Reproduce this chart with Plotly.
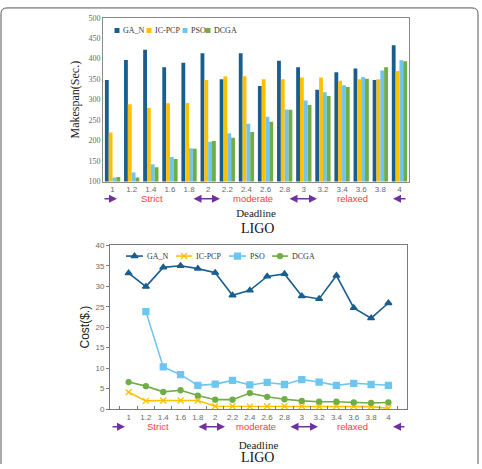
import plotly.graph_objects as go

deadlines = ["1", "1.2", "1.4", "1.6", "1.8", "2", "2.2", "2.4", "2.6", "2.8",
             "3", "3.2", "3.4", "3.6", "3.8", "4"]
series_names = ["GA_N", "IC-PCP", "PSO", "DCGA"]
series_colors = ["#1A5E8E", "#FFC000", "#6EC6F0", "#70AD47"]

makespan_ga_n = [348, 397, 422, 379, 390, 413, 350, 413, 333, 395, 379, 324, 367, 376, 348, 433]
makespan_ic_pcp = [220, 289, 280, 291, 292, 348, 357, 357, 350, 350, 354, 354, 346, 350, 350, 370]
makespan_pso = [110, 122, 142, 160, 181, 197, 218, 241, 258, 276, 298, 318, 335, 355, 371, 396]
makespan_dcga = [111, 110, 135, 155, 180, 199, 207, 221, 246, 275, 287, 309, 331, 351, 379, 394]

cost_ga_n = [33.2, 29.9, 34.6, 35.0, 34.3, 33.3, 27.8, 29.0, 32.4, 33.0, 27.6, 26.9, 32.6, 24.7, 22.2, 25.9]
cost_ic_pcp = [4.1, 2.0, 2.1, 2.1, 2.1, 0.7, 0.7, 0.6, 0.7, 0.7, 0.7, 0.6, 0.7, 0.7, 0.6, 0.2]
cost_pso = [None, 23.8, 10.3, 8.4, 5.8, 6.1, 7.0, 5.9, 6.5, 6.0, 7.2, 6.6, 5.8, 6.3, 6.0, 5.8]
cost_dcga = [6.6, 5.6, 4.2, 4.6, 3.3, 2.3, 2.3, 3.9, 3.0, 2.4, 2.0, 1.8, 1.8, 1.6, 1.5, 1.6]

zone_labels = ["Strict", "moderate", "relaxed"]

makespan = [makespan_ga_n, makespan_ic_pcp, makespan_pso, makespan_dcga]
cost = [cost_ga_n, cost_ic_pcp, cost_pso, cost_dcga]
line_symbols = ["triangle-up", "x-thin", "square", "circle"]
marker_sizes = [6, 6, 6, 5]

W, H = 482, 469
def px(x):
    return x / W
def py(y):
    return 1 - y / H

SERIF = "Liberation Serif"
SANS = "Liberation Sans"
GRAY = "#6b6b6b"

fig = go.Figure()
for name, col, vals in zip(series_names, series_colors, makespan):
    fig.add_trace(go.Bar(x=deadlines, y=vals, name=name, marker_color=col,
                         marker_line_width=0, xaxis="x", yaxis="y", showlegend=False))

for name, col, vals, sym, ms in zip(series_names, series_colors, cost, line_symbols, marker_sizes):
    fig.add_trace(go.Scatter(x=deadlines, y=vals, name=name, mode="lines+markers",
                             line=dict(color=col, width=1.6),
                             marker=dict(symbol=sym, size=ms, color=col,
                                         line=dict(color=col, width=1.3)),
                             xaxis="x2", yaxis="y2", showlegend=False))

# legend samples drawn on a hidden pixel-coordinate overlay axis
bar_legend_sym_x = [117, 149, 185, 208]
bar_legend_y = 27
line_legend_x = [(126, 143), (176, 192), (229, 246), (272, 288)]
line_legend_y = 257
for i, (name, col) in enumerate(zip(series_names, series_colors)):
    fig.add_trace(go.Scatter(x=[bar_legend_sym_x[i]], y=[bar_legend_y], mode="markers",
                             marker=dict(symbol="square", size=5, color=col),
                             xaxis="x3", yaxis="y3", showlegend=False, hoverinfo="skip"))
    x0, x1 = line_legend_x[i]
    fig.add_trace(go.Scatter(x=[x0, x1], y=[line_legend_y] * 2,
                             mode="lines", line=dict(color=col, width=1.6),
                             xaxis="x3", yaxis="y3", showlegend=False, hoverinfo="skip"))
    fig.add_trace(go.Scatter(x=[(x0 + x1) / 2], y=[line_legend_y], mode="markers",
                             marker=dict(symbol=line_symbols[i], size=marker_sizes[i], color=col,
                                         line=dict(color=col, width=1.3)),
                             xaxis="x3", yaxis="y3", showlegend=False, hoverinfo="skip"))

axis_common = dict(showline=True, mirror=True, showgrid=False, zeroline=False)

fig.update_layout(
    width=W, height=H, margin=dict(l=0, r=0, t=0, b=0),
    paper_bgcolor="white", plot_bgcolor="rgba(0,0,0,0)",
    barmode="group", bargap=0.2, bargroupgap=0,
    xaxis=dict(domain=[px(103), px(409)], anchor="y", type="category",
               linecolor="#8a8a8a", linewidth=1, ticks="", tickangle=0,
               tickfont=dict(family=SANS, size=8, color=GRAY),
               title=dict(text="Deadline", font=dict(family=SERIF, size=11, color="#222"),
                          standoff=16),
               **axis_common),
    yaxis=dict(domain=[py(181), py(14)], anchor="x", range=[100, 500], dtick=50,
               linecolor="#8a8a8a", linewidth=1, ticks="",
               tickfont=dict(family=SERIF, size=8, color=GRAY),
               title=dict(text="Makespan(Sec.)", font=dict(family=SERIF, size=12, color="#222"),
                          standoff=6),
               **axis_common),
    xaxis2=dict(domain=[px(110), px(407)], anchor="y2", type="category",
                linecolor="#7a7a7a", linewidth=1, ticks="inside", ticklen=3,
                tickson="boundaries", tickcolor="#7a7a7a", tickangle=0,
                tickfont=dict(family=SANS, size=8, color=GRAY),
                title=dict(text="Deadline", font=dict(family=SERIF, size=11, color="#222"),
                           standoff=20),
                **axis_common),
    yaxis2=dict(domain=[py(413), py(246)], anchor="x2", range=[0, 40], dtick=5,
                linecolor="#7a7a7a", linewidth=1, ticks="outside", ticklen=3,
                tickcolor="#7a7a7a",
                tickfont=dict(family=SANS, size=8, color=GRAY),
                title=dict(text="Cost($.)", font=dict(family=SANS, size=12, color="#222"),
                           standoff=3),
                **axis_common),
    xaxis3=dict(domain=[0, 1], range=[0, W], anchor="y3", visible=False, fixedrange=True),
    yaxis3=dict(domain=[0, 1], range=[H, 0], anchor="x3", visible=False, fixedrange=True),
    showlegend=False,
)

ARROW = "#7030A0"
RED = "#FF3B3B"
annotations = []
for i, name in enumerate(series_names):
    annotations.append(dict(xref="paper", yref="paper", x=px(bar_legend_sym_x[i] + 3.5),
                            y=py(bar_legend_y), text=name, showarrow=False,
                            xanchor="left", yanchor="middle",
                            font=dict(family=SERIF, size=8, color="#333")))
    annotations.append(dict(xref="paper", yref="paper", x=px(line_legend_x[i][1] + 2),
                            y=py(line_legend_y), text=name, showarrow=False,
                            xanchor="left", yanchor="middle",
                            font=dict(family=SERIF, size=8, color="#333")))

rows = [
    (198.5, [(103, 117, "end"), (192, 220, "end+start"), (288, 317, "end+start"), (407, 393, "end")],
     [152, 253, 352]),
    (431, [(111, 125, "end"), (197, 225, "end+start"), (289, 318, "end+start"), (406, 393, "end")],
     [158, 256, 352]),
]
for yy, arrows, labels in rows:
    for x0, x1, side in arrows:
        annotations.append(dict(xref="paper", yref="paper", x=px(x1), y=py(yy),
                                ax=x0 - x1, ay=0, text="", showarrow=True,
                                arrowhead=2, arrowsize=1, arrowwidth=1.6,
                                arrowcolor=ARROW, arrowside=side,
                                startarrowhead=2, startarrowsize=1))
    for lx, lab in zip(labels, zone_labels):
        annotations.append(dict(xref="paper", yref="paper", x=px(lx), y=py(yy),
                                text=lab, showarrow=False, xanchor="center", yanchor="middle",
                                font=dict(family=SANS, size=9.5, color=RED)))
for yy in (229, 462):
    annotations.append(dict(xref="paper", yref="paper", x=px(257), y=py(yy),
                            text="LIGO", showarrow=False, xanchor="center", yanchor="middle",
                            font=dict(family=SERIF, size=14, color="#111")))
fig.update_layout(annotations=annotations)

fig.add_shape(type="path", xref="paper", yref="paper",
              path=f"M {px(1)},{py(469)} L {px(1)},{py(10)} Q {px(1)},{py(4)} {px(7)},{py(4)} "
                   f"L {px(472)},{py(4)} Q {px(478)},{py(4)} {px(478)},{py(10)} L {px(478)},{py(469)}",
              line=dict(color="#555", width=1))

fig.write_html("out.html")
